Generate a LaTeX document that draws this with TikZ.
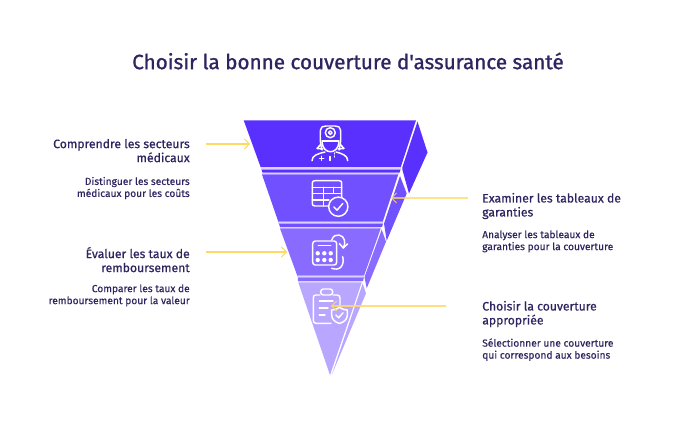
\documentclass[tikz,border=0pt]{standalone}
\usepackage{fontspec}
\setmainfont{Fira Sans}
\newfontfamily\titlefont[FakeBold=1.1]{Fira Sans}
\newfontfamily\headfont[FakeBold=0.7]{Fira Sans}
\newfontfamily\subfont[FakeBold=0.45]{Fira Sans}
\usetikzlibrary{arrows.meta}
\definecolor{inkText}{RGB}{46,37,96}
\definecolor{tierOne}{RGB}{90,48,255}
\definecolor{tierTwo}{RGB}{113,80,255}
\definecolor{tierThree}{RGB}{137,108,255}
\definecolor{tierFour}{RGB}{184,166,255}
\definecolor{bandLight}{RGB}{218,210,255}
\definecolor{arrowYellow}{RGB}{255,217,102}
\tikzset{
  titletext/.style={font=\titlefont\fontsize{15.5pt}{18pt}\selectfont,color=inkText},
  headleft/.style={font=\headfont\fontsize{9.15pt}{10.5pt}\selectfont,color=inkText,align=right,anchor=north east,inner sep=0pt},
  headright/.style={font=\headfont\fontsize{9.15pt}{10.5pt}\selectfont,color=inkText,align=left,anchor=north west,inner sep=0pt},
  subleft/.style={font=\subfont\fontsize{7.65pt}{9pt}\selectfont,color=inkText,align=right,anchor=north east,inner sep=0pt},
  subright/.style={font=\subfont\fontsize{7.65pt}{9pt}\selectfont,color=inkText,align=left,anchor=north west,inner sep=0pt},
  icon/.style={draw=white,line width=1.1pt,line cap=round,line join=round},
  callout/.style={draw=arrowYellow,line width=1.1pt,-{Straight Barb[length=3.6pt,width=7.5pt,line width=0.8pt]}},
}
\begin{document}
\begin{tikzpicture}[x=0.75pt,y=0.75pt,yscale=-1,xscale=1]
\useasboundingbox (0,0) rectangle (696,438);

%Shape: side faces
\fill [tierOne] (417.5,121.5) -- (427.5,152.5) -- (409,193.5) -- (402.3,169.5) -- (402.3,167.5) -- cycle;
\fill [tierTwo] (400,176) -- (406.7,193.5) -- (386.7,240.7) -- (384,223.5) -- cycle;
\fill [tierThree] (381.7,229.5) -- (386,241.7) -- (366.7,288.3) -- (364.5,277) -- cycle;
\fill [tierFour] (362.7,283.5) -- (366,293.3) -- (331.7,375) -- cycle;

%Shape: front faces
\fill [tierOne] (243.7,120.3) -- (416,120.3) -- (400.7,167.3) -- (260.7,167.3) -- cycle;
\fill [tierTwo] (262,174.5) -- (398.3,174.5) -- (382.7,221.7) -- (278.3,221.7) -- cycle;
\fill [tierThree] (280,228.5) -- (380.7,228.5) -- (364,275.7) -- (297.3,275.7) -- cycle;
\fill [tierFour] (298.3,282.5) -- (361.7,282.5) -- (330,375) -- cycle;

%Shape: bands under the faces
\fill [bandLight] (260.7,167.5) rectangle (401,169.6);
\fill [tierOne] (261.5,169.6) -- (400.5,169.6) -- (399.5,172.7) -- (262.5,172.7) -- cycle;
\fill [bandLight] (262,172.7) rectangle (399,174.5);
\fill [bandLight] (278.3,221.9) rectangle (383,223.6);
\fill [tierTwo] (279,223.6) -- (383,223.6) -- (382,227) -- (280,227) -- cycle;
\fill [bandLight] (280,227) rectangle (381,228.5);
\fill [bandLight] (297.3,275.9) rectangle (364.3,277.3);
\fill [tierThree] (297.8,277.3) -- (364,277.3) -- (363,281) -- (298,281) -- cycle;
\fill [bandLight] (298.3,281) rectangle (362,282.5);

%Icon: doctor
\draw [icon] (322,150) .. controls (320,143) and (320,138) .. (320.5,130) .. controls (320.5,127) and (323,126) .. (326,126) -- (335,126) .. controls (338,126) and (340.5,127) .. (340.5,130) .. controls (341,138) and (341,143) .. (339,150);
\draw [icon] (330.3,132.7) circle (5);
\draw [icon] (330.3,132.7) circle (1.8);
\draw [icon] (322,141) -- (339,141);
\draw [icon] (322,142) .. controls (323,155) and (338,155) .. (339,142);
\draw [icon] (321,144) -- (317,148.5) -- (323,149) (340,144) -- (344,148.5) -- (338,149);
\draw [icon] (312,160.7) .. controls (312,155.5) and (318,153.5) .. (325,152);
\draw [icon] (347.7,160.7) .. controls (347.7,155.5) and (342,153.5) .. (336,152);
\draw [icon] (319.7,158.3) -- (323.7,158.3) (321.7,156.3) -- (321.7,160.3);
\draw [icon] (330,156.5) -- (330,160.5);
\draw [icon] (334.3,153) -- (334.3,154) (334.3,156) -- (334.3,157);

%Icon: table with check
\draw [icon] (333,206) -- (315,206) .. controls (313,206) and (312.3,205) .. (312.3,203.5) -- (312.3,183) .. controls (312.3,181.5) and (313,180.7) .. (315,180.7) -- (339,180.7) .. controls (341,180.7) and (341.7,181.5) .. (341.7,183) -- (341.7,197);
\draw [icon] (312.3,187.3) -- (341.7,187.3) (312.3,193.5) -- (341.7,193.5) (312.3,200) -- (329,200);
\draw [icon] (323.3,187.3) -- (323.3,206) (333.3,187.3) -- (333.3,193.5);
\draw [icon,fill=tierTwo] (338.3,206.7) circle (9.6);
\draw [icon] (333.8,207) -- (337,210.2) -- (342.8,203.5);

%Icon: calculator with arrows
\draw [icon,rounded corners=2pt] (312.7,241) rectangle (336.7,265);
\draw [icon] (318.3,245.5) -- (330.7,245.5);
\foreach \bx in {317.7,324.3,330.7}
  \foreach \by in {253.3,260}
    \fill [white] (\bx,\by) circle (2.2);
\draw [icon] (331.7,240) .. controls (333,236) and (336,234.5) .. (339,235) .. controls (345,236) and (346,243) .. (343.3,248);
\draw [icon] (339.3,243.5) -- (343.3,248) -- (347.5,244);
\draw [icon] (331.7,268.3) .. controls (335,269.5) and (339,269.5) .. (341,267) .. controls (343.5,264) and (343.5,260) .. (342.7,256.7);

%Icon: clipboard with shield
\draw [icon] (320,295) -- (316,295) .. controls (314,295) and (313.3,296) .. (313.3,298) -- (313.3,320) .. controls (313.3,322) and (314,323.3) .. (316,323.3) -- (331,323.3);
\draw [icon] (333,295) -- (337,295) .. controls (339,295) and (340,296) .. (340,298) -- (340,306);
\draw [icon,rounded corners=2pt] (320.7,289) rectangle (332.7,295);
\draw [icon] (319.3,301) -- (333,301) (319.3,308) -- (328,308) (319.3,315) -- (325,315);
\draw [icon] (339.5,307.3) .. controls (336,309.5) and (334,310) .. (331.7,310) -- (331.7,315) .. controls (331.7,319.5) and (335,322) .. (339.5,323.5) .. controls (344,322) and (347.3,319.5) .. (347.3,315) -- (347.3,310) .. controls (345,310) and (343,309.5) .. (339.5,307.3);
\draw [icon] (335.8,315) -- (338.6,317.8) -- (343,312.8);

%Straight Lines: callouts
\coordinate (startOne) at (205.7,144);
\coordinate (tipOne) at (250,144);
\coordinate (startTwo) at (468,198);
\coordinate (tipTwo) at (391,198);
\coordinate (startThree) at (205.7,252);
\coordinate (tipThree) at (287,252);
\coordinate (startFour) at (445.7,306);
\coordinate (tipFour) at (331,306);
\draw [callout] (startOne) -- (tipOne);
\draw [callout,opacity=0.75] (startTwo) -- (tipTwo);
\draw [callout] (startThree) -- (tipThree);
\draw [callout,opacity=0.85] (startFour) -- (tipFour);

% Text Node
\node (titleText) [titletext] at (348,61) {Choisir la bonne couverture d\char39 assurance santé};
% Text Node
\node (headOne) [headleft] at (190,138.7) {Comprendre les secteurs\\médicaux};
\node (subOne) [subleft] at (190,176.7) {Distinguer les secteurs\\médicaux pour les coûts};
% Text Node
\node (headTwo) [headright] at (482,192.7) {Examiner les tableaux de\\garanties};
\node (subTwo) [subright] at (482,230.2) {Analyser les tableaux de\\garanties pour la couverture};
% Text Node
\node (headThree) [headleft] at (190,246.7) {Évaluer les taux de\\remboursement};
\node (subThree) [subleft] at (190,284.2) {Comparer les taux de\\remboursement pour la valeur};
% Text Node
\node (headFour) [headright] at (482,300.7) {Choisir la couverture\\appropriée};
\node (subFour) [subright] at (482,338.2) {Sélectionner une couverture\\qui correspond aux besoins};

\end{tikzpicture}
\end{document}
